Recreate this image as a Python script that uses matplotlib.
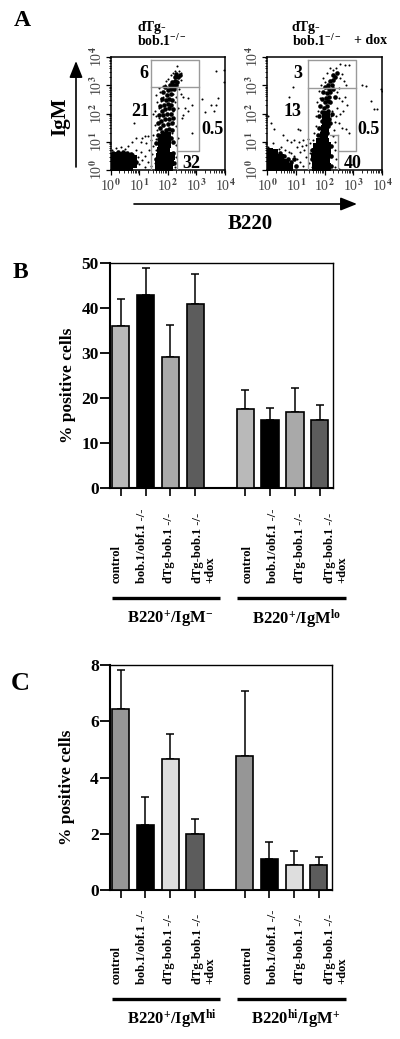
"""Flow cytometry plots and % positive cells bar charts (panels A, B, C)."""

import numpy as np
import matplotlib
matplotlib.use("Agg")
import matplotlib.pyplot as plt

plt.rcParams["font.family"] = ["Liberation Serif", "DejaVu Serif"]
plt.rcParams["font.weight"] = "bold"
plt.rcParams["mathtext.fontset"] = "custom"
plt.rcParams["mathtext.rm"] = "Liberation Serif:bold"
plt.rcParams["mathtext.it"] = "Liberation Serif:bold"
plt.rcParams["mathtext.bf"] = "Liberation Serif:bold"
plt.rcParams["mathtext.default"] = "rm"

W, H = 400, 1039

# Panel B
B_VALUES = [35.9, 43.0, 29.1, 41.0, 17.5, 15.1, 17.0, 15.1]
B_ERR_TOPS = [42.1, 49.0, 36.3, 47.5, 21.7, 17.8, 22.3, 18.5]
B_COLORS = ["#b9b9b9", "#000000", "#a9a9a9", "#5c5c5c", "#b9b9b9", "#000000", "#a9a9a9", "#5c5c5c"]
B_TICKS = [0, 10, 20, 30, 40, 50]

# Panel C
C_VALUES = [6.45, 2.32, 4.65, 2.0, 4.76, 1.11, 0.9, 0.9]
C_ERR_TOPS = [7.84, 3.32, 5.56, 2.51, 7.08, 1.71, 1.39, 1.18]
C_COLORS = ["#969696", "#000000", "#dedede", "#5c5c5c", "#969696", "#000000", "#dedede", "#5c5c5c"]
C_TICKS = [0, 2, 4, 6, 8]

BAR_POS = [0, 1, 2, 3, 5, 6, 7, 8]
CATEGORIES = ["control", "bob.1/obf.1 -/-", "dTg-bob.1 -/-", "dTg-bob.1 -/-\n+dox"]

# Panel A, positions in decades (log10 of B220, log10 of IgM)
L_CORE = [(0.12, 0.12), (0.3, 0.12), (0.48, 0.12), (0.66, 0.12), (0.12, 0.3), (0.3, 0.3),
          (0.48, 0.3), (0.66, 0.3), (0.12, 0.46), (0.3, 0.48), (0.48, 0.48), (0.66, 0.46),
          (0.78, 0.2), (0.8, 0.38), (1.7, 0.1), (1.88, 0.08), (2.06, 0.1), (1.68, 0.28),
          (1.88, 0.28), (2.08, 0.3), (1.72, 0.46), (1.92, 0.48), (2.1, 0.5), (1.75, 0.66),
          (1.95, 0.7), (1.8, 0.9), (1.98, 0.92), (1.85, 1.15), (1.98, 1.2)]
L_MID = [(0.1, 0.6), (0.25, 0.62), (0.42, 0.64), (0.58, 0.6), (0.72, 0.58), (0.9, 0.3),
         (1.8, 1.35), (1.95, 1.4), (2.05, 1.45), (1.72, 1.5), (1.85, 1.6), (2.0, 1.62),
         (1.78, 1.75), (1.92, 1.8), (2.05, 1.82), (1.85, 1.95), (1.98, 2.0), (2.1, 1.98),
         (1.8, 2.1), (1.92, 2.15), (2.05, 2.18), (1.88, 2.3), (2.0, 2.35), (2.12, 2.3),
         (1.95, 2.48), (2.06, 2.52), (2.15, 2.48), (1.98, 2.65), (2.1, 2.7), (2.0, 2.82),
         (2.12, 2.88), (2.22, 2.85), (2.08, 3.0), (2.18, 3.02), (2.28, 3.0), (2.15, 3.12),
         (2.25, 3.15), (2.33, 3.1), (2.25, 3.28), (2.35, 3.3), (2.3, 3.4), (2.42, 3.38),
         (1.6, 0.95), (2.2, 0.6), (2.18, 1.0), (1.58, 0.4), (2.22, 0.25), (1.65, 1.25),
         (1.68, 1.1), (2.12, 1.15), (2.15, 1.4), (1.65, 1.65), (2.14, 1.65), (1.7, 1.95),
         (2.18, 1.85), (1.72, 2.25), (2.2, 2.15), (1.8, 2.5), (1.85, 2.75), (1.92, 2.95)]
L_SPARSE = [(0.05, 0.72), (0.2, 0.78), (0.35, 0.8), (0.5, 0.75), (0.62, 0.85), (0.78, 0.55),
            (0.9, 0.7), (0.95, 0.45), (1.0, 0.2), (1.1, 0.35), (1.08, 0.62), (1.2, 0.1),
            (1.22, 0.5), (1.3, 0.3), (1.35, 0.72), (1.42, 0.15), (1.45, 0.55), (1.48, 0.85),
            (0.75, 1.0), (0.9, 1.15), (1.05, 1.0), (1.2, 1.2), (1.1, 1.15), (1.25, 0.95),
            (0.82, 1.65), (1.32, 1.2), (1.4, 1.05), (1.5, 1.25), (1.55, 1.6), (1.6, 1.9),
            (1.55, 2.1), (1.62, 2.4), (1.5, 2.0), (1.68, 2.2), (1.6, 2.65), (1.72, 2.75),
            (1.78, 2.55), (1.7, 2.9), (1.82, 2.98), (1.9, 3.0), (1.95, 3.15), (2.02, 3.22),
            (2.1, 3.35), (2.18, 3.45), (2.25, 3.52), (2.4, 3.5), (2.48, 3.45), (2.32, 3.68),
            (2.45, 3.2), (2.38, 2.85), (2.45, 2.7), (2.3, 2.6), (2.25, 2.4), (2.35, 2.2),
            (2.55, 2.6), (2.7, 2.55), (2.85, 2.3), (2.62, 2.2), (2.72, 2.1), (2.5, 1.85),
            (2.55, 1.95), (2.85, 1.3), (3.2, 2.5), (3.3, 2.05), (3.6, 2.1), (3.7, 2.3),
            (3.75, 2.55), (3.5, 2.3), (3.7, 3.5), (3.95, 3.55), (3.95, 3.1), (2.3, 1.55),
            (2.35, 1.15), (2.28, 0.9), (2.3, 0.45), (2.25, 0.1), (1.55, 0.25), (1.58, 0.7),
            (1.6, 1.1), (1.62, 1.4), (2.15, 1.3), (2.2, 1.7), (2.18, 2.1), (1.7, 1.65),
            (1.7, 1.85), (1.75, 2.45), (1.85, 2.6), (2.05, 2.95), (2.2, 2.7), (2.28, 2.95)]

R_CORE = [(0.08, 0.1), (0.26, 0.1), (0.44, 0.1), (0.62, 0.1), (0.08, 0.28), (0.26, 0.28),
          (0.44, 0.28), (0.62, 0.26), (0.08, 0.46), (0.26, 0.46), (0.44, 0.44), (0.08, 0.62),
          (0.26, 0.6), (0.78, 0.12), (1.72, 0.1), (1.9, 0.08), (2.08, 0.1), (1.7, 0.28),
          (1.88, 0.28), (2.06, 0.28), (1.68, 0.46), (1.86, 0.46), (2.04, 0.46), (1.72, 0.64),
          (1.9, 0.64), (2.08, 0.62), (1.74, 0.82), (1.92, 0.82), (2.08, 0.85), (1.85, 1.0),
          (2.02, 1.0), (1.98, 1.2), (2.02, 1.45), (2.04, 1.7), (2.06, 1.95)]
R_MID = [(0.44, 0.6), (0.6, 0.48), (1.88, 1.15), (2.08, 1.3), (1.92, 1.35), (1.95, 1.55),
         (2.12, 1.55), (1.9, 1.75), (2.14, 1.8), (1.92, 2.05), (2.12, 2.1), (1.98, 2.2),
         (2.1, 2.28), (2.0, 2.4), (2.12, 2.45), (2.2, 2.42), (2.05, 2.55), (2.15, 2.6),
         (2.1, 2.72), (2.2, 2.75), (2.15, 2.88), (2.28, 2.88), (2.12, 3.0), (2.25, 3.02),
         (2.2, 3.15), (2.3, 3.18), (2.35, 3.3), (2.28, 3.35), (2.42, 3.42), (0.72, 0.4),
         (0.85, 0.3), (1.0, 0.15), (1.55, 0.4), (1.58, 0.7), (2.22, 0.5), (2.22, 0.15),
         (2.22, 0.85), (1.78, 1.25), (1.82, 1.5), (1.8, 1.9), (2.2, 1.65), (2.25, 2.0),
         (1.85, 2.25), (1.9, 2.5), (1.95, 2.75), (2.0, 2.95), (2.35, 2.6), (0.95, 0.4)]
R_SPARSE = [(0.05, 0.8), (0.2, 0.95), (0.4, 0.75), (0.5, 0.82), (0.62, 0.7), (0.75, 0.62),
            (0.85, 0.6), (0.95, 0.5), (1.05, 0.4), (1.15, 0.3), (1.25, 0.15), (1.35, 0.45),
            (1.45, 0.25), (1.5, 0.6), (1.3, 0.7), (1.15, 0.62), (1.05, 0.8), (1.2, 0.85),
            (1.35, 0.9), (1.5, 0.95), (1.6, 1.05), (0.7, 1.05), (0.85, 1.0), (0.95, 1.05),
            (1.1, 1.0), (1.25, 1.05), (1.42, 1.1), (1.08, 1.45), (1.15, 1.4), (0.05, 1.9),
            (0.15, 1.65), (0.25, 1.45), (0.95, 2.35), (0.78, 2.58), (0.9, 2.95), (0.55, 1.25),
            (1.65, 1.3), (1.7, 1.55), (1.72, 1.9), (1.78, 2.1), (1.75, 2.4), (1.85, 2.55),
            (1.8, 2.8), (1.88, 3.0), (1.95, 3.25), (2.02, 3.1), (2.1, 3.45), (2.18, 3.6),
            (2.28, 3.55), (2.4, 3.6), (2.55, 3.75), (2.72, 3.72), (2.85, 3.7), (2.62, 3.4),
            (2.68, 3.15), (2.55, 3.25), (2.75, 3.0), (2.5, 2.9), (2.45, 2.75), (2.38, 2.6),
            (2.5, 2.55), (2.62, 2.45), (2.72, 2.6), (2.78, 2.3), (2.65, 2.1), (2.55, 2.0),
            (2.45, 2.2), (2.4, 1.9), (2.35, 1.7), (2.5, 1.65), (2.62, 1.5), (2.75, 1.45),
            (2.85, 1.3), (3.3, 3.0), (3.45, 2.98), (3.62, 2.45), (3.72, 2.15), (3.82, 2.15),
            (3.95, 2.85), (4.0, 2.78), (2.32, 1.4), (2.3, 1.2), (2.38, 1.0), (2.35, 0.7),
            (2.4, 0.4), (2.35, 0.1), (2.5, 0.05), (1.55, 0.12), (2.25, 2.1), (2.22, 1.9)]

L_NUMBERS = [("6", 144, 74), ("21", 140, 112), ("0.5", 213, 130), ("32", 191, 163)]
R_NUMBERS = [("3", 298, 74), ("13", 293, 112), ("0.5", 368, 130), ("40", 353, 163)]


def axes_px(left, top, right, bottom):
    """Axes placed with reference pixel edges."""
    return fig.add_axes([left / W, 1 - bottom / H, (right - left) / W, (bottom - top) / H])


def draw_dots(ax, core, mid, sparse):
    for pts, size in ((core, 30), (mid, 11), (sparse, 2.2)):
        xs, ys = zip(*pts)
        ax.scatter(xs, ys, s=size, c="black", marker="s" if size > 20 else "o",
                   linewidths=0, clip_on=True, zorder=2)


def draw_flow(box, core, mid, sparse, gate_lines):
    ax = axes_px(*box)
    ax.set_xlim(0, 4)
    ax.set_ylim(0, 4)
    draw_dots(ax, core, mid, sparse)
    for xs, ys in gate_lines:
        ax.plot(xs, ys, color="#9a9a9a", lw=1.0, zorder=3)
    minor = [d + np.log10(m) for d in range(4) for m in range(2, 10)]
    ax.set_xticks(range(5))
    ax.set_yticks(range(5))
    ax.set_xticks(minor, minor=True)
    ax.set_yticks(minor, minor=True)
    ax.set_xticklabels([])
    ax.set_yticklabels([])
    ax.tick_params(which="major", length=3.5, width=0.9, direction="out")
    ax.tick_params(which="minor", length=1.8, width=0.6, direction="out")
    for s in ax.spines.values():
        s.set_linewidth(1.1)
    for d in range(5):
        ax.annotate(f"10$^{{{d}}}$", (d / 4, 0), xycoords="axes fraction", xytext=(0, -11),
                    textcoords="offset points", ha="center", va="center", fontsize=10,
                    color="#444444", fontweight="normal", math_fontfamily="stix")
        ax.annotate(f"10$^{{{d}}}$", (0, d / 4), xycoords="axes fraction", xytext=(-10, 0),
                    textcoords="offset points", ha="center", va="center", fontsize=10,
                    rotation=90, color="#444444", fontweight="normal", math_fontfamily="stix")
    return ax


def draw_bars(box, values, err_tops, colors, ticks, ymax):
    ax = axes_px(*box)
    for x, v, e, c in zip(BAR_POS, values, err_tops, colors):
        ax.bar(x, v, width=0.69, color=c, edgecolor="black", linewidth=1.2, zorder=3)
        ax.errorbar(x, v, yerr=[[0], [e - v]], color="black", elinewidth=1.1, capsize=3.2,
                    capthick=1.1, zorder=2)
    ax.set_xlim(-0.43, 8.53)
    ax.set_ylim(0, ymax)
    ax.set_xticks(BAR_POS)
    ax.set_xticklabels([])
    ax.set_yticks(ticks)
    ax.tick_params(axis="y", length=7, width=1.3, labelsize=12.5, pad=1)
    ax.tick_params(axis="x", length=6, width=1.2)
    ax.spines["left"].set_linewidth(1.5)
    ax.spines["bottom"].set_linewidth(1.5)
    ax.spines["top"].set_linewidth(1.0)
    ax.spines["right"].set_linewidth(1.0)
    return ax


fig = plt.figure(figsize=(W / 100, H / 100), dpi=100)

L_GATES = [([1.43, 3.1, 3.1, 2.33], [3.9, 3.9, 0.66, 0.66]), ([1.43, 3.1], [2.95, 2.95]),
           ([1.43, 1.43], [3.9, 0.0]), ([2.33, 2.33], [2.95, 0.0])]
R_GATES = [([1.42, 3.08, 3.08, 2.48], [3.9, 3.9, 0.66, 0.66]), ([1.42, 3.08], [2.92, 2.92]),
           ([1.42, 1.42], [3.9, 0.0]), ([2.48, 2.48], [1.25, 0.0]), ([2.2, 2.48], [1.25, 1.25])]
draw_flow((110.5, 57, 225, 170), L_CORE, L_MID, L_SPARSE, L_GATES)
draw_flow((267, 57, 382, 170), R_CORE, R_MID, R_SPARSE, R_GATES)

draw_bars((110, 263, 333, 488), B_VALUES, B_ERR_TOPS, B_COLORS, B_TICKS, 50)
draw_bars((110, 665, 332, 890), C_VALUES, C_ERR_TOPS, C_COLORS, C_TICKS, 8)

# Overlay in reference pixels for labels, arrows and group rules
ov = fig.add_axes([0, 0, 1, 1], zorder=10)
ov.set_xlim(0, W)
ov.set_ylim(H, 0)
ov.axis("off")
ov.patch.set_alpha(0)

for letter, x, y, size in (("A", 22, 21, 17), ("B", 20, 273, 17), ("C", 20, 683, 19)):
    ov.text(x, y, letter, fontsize=size, ha="center", va="center")

ov.text(137, 35, "dTg-\nbob.1$^{-/-}$", fontsize=10, ha="left", va="center", linespacing=0.95)
ov.text(292, 35, "dTg-\nbob.1$^{-/-}$", fontsize=10, ha="left", va="center", linespacing=0.95)
ov.text(354, 40, "+ dox", fontsize=10, ha="left", va="center")

for label, x, y in L_NUMBERS + R_NUMBERS:
    ov.text(x, y, label, fontsize=13, ha="center", va="center", zorder=5)

ov.annotate("", xy=(76, 61), xytext=(76, 167),
            arrowprops=dict(arrowstyle="-|>,head_width=0.4,head_length=1.0", color="black", lw=1.2,
                            shrinkA=0, shrinkB=0))
ov.annotate("", xy=(357, 204), xytext=(134, 204),
            arrowprops=dict(arrowstyle="-|>,head_width=0.4,head_length=1.0", color="black", lw=1.2,
                            shrinkA=0, shrinkB=0))
ov.text(60, 117, "IgM", fontsize=15, rotation=90, ha="center", va="center")
ov.text(250, 224, "B220", fontsize=15, ha="center", va="center")

ov.text(68, 385, "% positive cells", fontsize=12.5, rotation=90, ha="center", va="center")
ov.text(67, 787, "% positive cells", fontsize=12.5, rotation=90, ha="center", va="center")

CAT_X = [117, 142, 169, 204, 248, 273, 300, 336]
for bottom in (583, 984):
    for x, cat in zip(CAT_X, CATEGORIES * 2):
        ov.text(x, bottom, cat, fontsize=9, rotation=90, ha="center", va="bottom",
                multialignment="left", linespacing=1.0)

for y in (598, 999):
    ov.plot([111.5, 219.5], [y, y], color="black", lw=2.4, solid_capstyle="butt")
    ov.plot([237, 345.5], [y, y], color="black", lw=2.4, solid_capstyle="butt")

ov.text(170, 619, "B220$^{+}$/IgM$^{-}$", fontsize=12, ha="center", va="center")
ov.text(297, 619, "B220$^{+}$/IgM$^{lo}$", fontsize=12, ha="center", va="center")
ov.text(172, 1019, "B220$^{+}$/IgM$^{hi}$", fontsize=12, ha="center", va="center")
ov.text(296, 1019, "B220$^{hi}$/IgM$^{+}$", fontsize=12, ha="center", va="center")

fig.savefig("out.png", dpi=100)
